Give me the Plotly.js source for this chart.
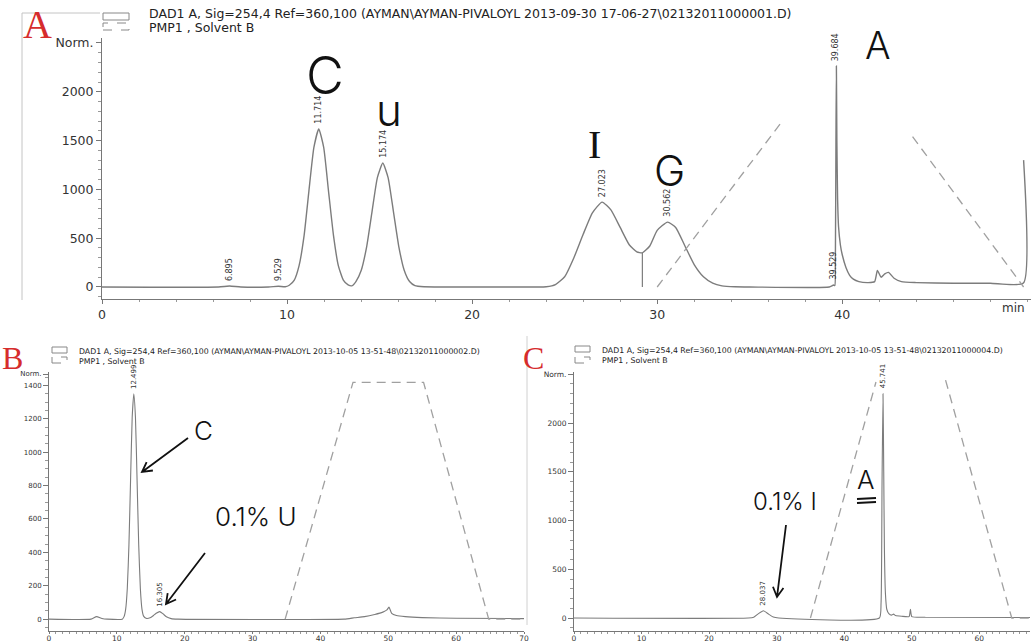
<!DOCTYPE html>
<html>
<head>
<meta charset="utf-8">
<script src="https://cdn.plot.ly/plotly-3.0.1.min.js"></script>
<style>
  html, body { margin: 0; padding: 0; background: #fff; }
  #chart { width: 1034px; height: 643px; }
</style>
</head>
<body>
<div id="chart"></div>
<script>
// ---------- Run A: mixed standard (C, U, I, G, A) ----------
const runA_time = [0, 6.3, 6.895, 7.5, 9.0, 9.529, 9.9,
  10.12, 10.39, 10.65, 10.92, 11.18, 11.45, 11.714, 11.98, 12.24, 12.51, 12.77, 13.04, 13.30, 13.50,
  13.72, 14.01, 14.30, 14.59, 14.88, 15.174, 15.46, 15.75, 16.04, 16.33, 16.62, 16.91, 17.4, 18.5,
  23.5, 24.0, 24.5, 25.0, 25.5, 26.0, 26.5, 27.023, 27.5, 28.0, 28.5, 28.9, 29.2, 29.6, 30.0,
  30.562, 31.0, 31.5, 32.0, 32.5, 33.0, 33.5, 34.2, 35.0,
  39.3, 39.529, 39.6, 39.63, 39.66, 39.684, 39.71, 39.75, 39.8, 39.9, 40.0, 40.2, 40.4, 40.6, 40.9,
  41.4, 41.75, 41.9, 42.1, 42.3, 42.5, 42.8, 43.2, 44.0, 46.0, 48.0, 49.79, 49.8];
const runA_signal = [0, 0, 10, 0, 0, 8, 2,
  18, 71, 219, 526, 983, 1430, 1620, 1430, 983, 526, 219, 71, 22, 12,
  56, 172, 412, 770, 1121, 1270, 1121, 770, 412, 172, 56, 14, 2, 0,
  0, 3, 25, 105, 300, 540, 760, 870, 790, 610, 430, 360, 350, 420, 580,
  665, 610, 420, 230, 105, 40, 12, 2, 0,
  0, 20, 15, 300, 1500, 2265, 1500, 900, 620, 430, 330, 200, 120, 80, 55,
  45, 55, 170, 100, 135, 150, 90, 55, 45, 38, 38, 40, 1300];
const runA_peaks = [6.895, 9.529, 11.714, 15.174, 27.023, 30.562, 39.529, 39.684];
const runA_dropTime = [29.2, 29.2];
const runA_dropSignal = [0, 350];
const runA_gradTime = [30.0, 36.8, null, 43.8, 49.8];
const runA_gradLevel = [0, 1710, null, 1540, 0];
const runA_header = ['DAD1 A, Sig=254,4 Ref=360,100 (AYMAN\\AYMAN-PIVALOYL 2013-09-30 17-06-27\\02132011000001.D)',
  'PMP1 , Solvent B'];
const runA_xticks = [0, 10, 20, 30, 40];
const runA_yticks = [0, 500, 1000, 1500, 2000, 2500];
const runA_ylabels = ['0', '500', '1000', '1500', '2000', 'Norm.'];

// ---------- Run B: C with 0.1% U ----------
const runB_time = [0, 6.2, 7.0, 7.8, 8.6, 10.8, 11.06, 11.30, 11.54, 11.78, 12.02, 12.26, 12.499,
  12.74, 12.98, 13.22, 13.46, 13.70, 13.94, 14.3, 14.9, 15.4, 15.8, 16.305, 16.8, 17.3, 18.0, 19.0,
  43.5, 45.0, 46.5, 48.0, 49.2, 49.8, 50.1, 50.5, 51.2, 52.5, 55.0, 60.0, 70.0];
const runB_signal = [0, 0, 15, 4, 0, 0, 15, 60, 185, 445, 831, 1209, 1350,
  1209, 831, 445, 185, 60, 18, 5, 8, 22, 35, 45, 32, 14, 3, 0,
  0, 8, 15, 28, 42, 55, 72, 35, 22, 15, 9, 5, 3];
const runB_peaks = [12.499, 16.305];
const runB_gradTime = [34.8, 44.8, 55.2, 64.8, 70.0];
const runB_gradLevel = [0, 1418, 1418, 0, 0];
const runB_header = ['DAD1 A, Sig=254,4 Ref=360,100 (AYMAN\\AYMAN-PIVALOYL 2013-10-05 13-51-48\\02132011000002.D)',
  'PMP1 , Solvent B'];
const runB_xticks = [0, 10, 20, 30, 40, 50, 60, 70];
const runB_yticks = [0, 200, 400, 600, 800, 1000, 1200, 1400, 1468];
const runB_ylabels = ['0', '200', '400', '600', '800', '1000', '1200', '1400', 'Norm.'];

// ---------- Run C: A with 0.1% I ----------
const runC_time = [0, 25.8, 26.6, 27.3, 28.037, 28.8, 29.5, 30.3, 45.2, 45.45, 45.6, 45.741, 45.85,
  45.95, 46.1, 46.3, 46.6, 47.0, 47.3, 47.6, 48.5, 49.6, 49.8, 50.0, 52.0, 67.5];
const runC_signal = [0, 0, 8, 45, 75, 40, 10, 0, 0, 150, 1400, 2300, 1500,
  700, 250, 90, 45, 30, 40, 25, 18, 15, 90, 15, 8, 5];
const runC_peaks = [28.037, 45.741];
const runC_gradTime = [35.0, 44.7, null, 55.0, 64.8, 67.5];
const runC_gradLevel = [0, 2420, null, 2440, 0, 0];
const runC_header = ['DAD1 A, Sig=254,4 Ref=360,100 (AYMAN\\AYMAN-PIVALOYL 2013-10-05 13-51-48\\02132011000004.D)',
  'PMP1 , Solvent B'];
const runC_xticks = [0, 10, 20, 30, 40, 50, 60];
const runC_yticks = [0, 500, 1000, 1500, 2000, 2500];
const runC_ylabels = ['0', '500', '1000', '1500', '2000', 'Norm.'];

// ---------- page geometry helpers (pixels -> paper) ----------
const W = 1034, H = 643;
const px = x => x / W;
const py = y => 1 - y / H;

const SANS = 'DejaVu Sans, Liberation Sans, Arial, sans-serif';
const HAND = 'Inter, Noto Sans, Liberation Sans, sans-serif';
const SERIF = 'Liberation Serif, Times New Roman, serif';
const TRACE = '#7c7c7c';
const GRAD = '#a0a0a0';

function signalTrace(t, s, xa, ya, w) {
  return { x: t, y: s, xaxis: xa, yaxis: ya, type: 'scatter', mode: 'lines',
    line: { color: TRACE, width: w, shape: 'spline', smoothing: 0.5 }, hoverinfo: 'skip' };
}
function gradientTrace(t, g, xa, ya) {
  return { x: t, y: g, xaxis: xa, yaxis: ya, type: 'scatter', mode: 'lines', connectgaps: false,
    line: { color: GRAD, width: 1.3, dash: '9px,6px' }, hoverinfo: 'skip' };
}

const data = [
  signalTrace(runA_time, runA_signal, 'x', 'y', 1.4),
  { x: runA_dropTime, y: runA_dropSignal, xaxis: 'x', yaxis: 'y', type: 'scatter', mode: 'lines',
    line: { color: TRACE, width: 1.2 }, hoverinfo: 'skip' },
  gradientTrace(runA_gradTime, runA_gradLevel, 'x', 'y'),
  signalTrace(runB_time, runB_signal, 'x2', 'y2', 1.1),
  gradientTrace(runB_gradTime, runB_gradLevel, 'x2', 'y2'),
  signalTrace(runC_time, runC_signal, 'x3', 'y3', 1.1),
  gradientTrace(runC_gradTime, runC_gradLevel, 'x3', 'y3')
];

function xAxis(dom, range, ticks, size, minorStep, anchor, tlen, standoff) {
  return { domain: dom, range: range, tickvals: ticks, ticktext: ticks.map(String), anchor: anchor,
    showline: true, linecolor: '#777', linewidth: 1, ticks: 'outside', ticklen: tlen, tickcolor: '#777',
    ticklabelstandoff: standoff,
    showgrid: false, zeroline: false, fixedrange: true,
    tickfont: { family: SANS, size: size, color: '#333' },
    minor: { tickmode: 'linear', tick0: 0, dtick: minorStep, ticks: 'outside', ticklen: 2, tickcolor: '#999' } };
}
function yAxis(dom, range, ticks, labels, size, minorStep, anchor) {
  return { domain: dom, range: range, tickvals: ticks, ticktext: labels, anchor: anchor,
    showline: true, linecolor: '#777', linewidth: 1, ticks: 'outside', ticklen: 5, tickcolor: '#777',
    showgrid: false, zeroline: false, fixedrange: true,
    tickfont: { family: SANS, size: size, color: '#333' },
    minor: { tickmode: 'linear', tick0: 0, dtick: minorStep, ticks: 'outside', ticklen: 3, tickcolor: '#999' } };
}

function peakLabels(times, signals, peaks, xr, yr, size) {
  return peaks.map(t => ({
    x: t, y: signals[times.indexOf(t)], xref: xr, yref: yr, text: t.toFixed(3),
    textangle: -90, showarrow: false, xanchor: 'center', yanchor: 'bottom', yshift: 3,
    font: { family: SANS, size: size, color: '#333' }
  }));
}
function headerLines(lines, x, y1, y2, size) {
  return [
    { x: px(x), y: py(y1), xref: 'paper', yref: 'paper', text: lines[0], showarrow: false,
      xanchor: 'left', yanchor: 'middle', font: { family: SANS, size: size, color: '#222' } },
    { x: px(x), y: py(y2), xref: 'paper', yref: 'paper', text: lines[1], showarrow: false,
      xanchor: 'left', yanchor: 'middle', font: { family: SANS, size: size, color: '#222' } }
  ];
}
function note(text, x, y, size, family, color) {
  return { x: px(x), y: py(y), xref: 'paper', yref: 'paper', text: text, showarrow: false,
    xanchor: 'center', yanchor: 'middle',
    font: { family: family || HAND, size: size, color: color || '#111', weight: family ? 400 : 300 } };
}
function legendBoxes(x0, x1, yTop, h, gap) {
  return [
    { type: 'rect', xref: 'paper', yref: 'paper', x0: px(x0), x1: px(x1), y0: py(yTop + h), y1: py(yTop),
      line: { color: '#888', width: 1 } },
    { type: 'rect', xref: 'paper', yref: 'paper', x0: px(x0), x1: px(x1), y0: py(yTop + gap + h), y1: py(yTop + gap),
      line: { color: '#888', width: 1, dash: 'dash' } }
  ];
}
function pline(x0, y0, x1, y1, color, width) {
  return { type: 'line', xref: 'paper', yref: 'paper', x0: px(x0), y0: py(y0), x1: px(x1), y1: py(y1),
    line: { color: color, width: width } };
}
function handArrow(tx, ty, hx, hy) {
  const ang = Math.atan2(ty - hy, tx - hx), L = 11, sp = 0.5;
  const a1x = hx + L * Math.cos(ang + sp), a1y = hy + L * Math.sin(ang + sp);
  const a2x = hx + L * Math.cos(ang - sp), a2y = hy + L * Math.sin(ang - sp);
  const P = (x, y) => px(x) + ',' + py(y);
  return { type: 'path', xref: 'paper', yref: 'paper',
    path: 'M' + P(tx, ty) + ' L' + P(hx, hy) + ' M' + P(a1x, a1y) + ' L' + P(hx, hy) + ' L' + P(a2x, a2y),
    line: { color: '#111', width: 1.8 } };
}

const annotations = [
  ...peakLabels(runA_time, runA_signal, runA_peaks, 'x', 'y', 8),
  ...peakLabels(runB_time, runB_signal, runB_peaks, 'x2', 'y2', 7),
  ...peakLabels(runC_time, runC_signal, runC_peaks, 'x3', 'y3', 7),
  ...headerLines(runA_header, 147, 14, 28, 12.5),
  ...headerLines(runB_header, 77, 351, 361, 7.8),
  ...headerLines(runC_header, 600, 350, 360, 7.8),
  { x: px(1013), y: py(308), xref: 'paper', yref: 'paper', text: 'min', showarrow: false,
    xanchor: 'center', yanchor: 'middle', font: { family: SANS, size: 12, color: '#333' } },
  // panel letters
  note('A', 37, 24, 40, SERIF, '#d62c2c'),
  note('B', 12, 358, 32, SERIF, '#d62c2c'),
  note('C', 533, 358, 32, SERIF, '#d62c2c'),
  // handwritten compound names, run A
  note('C', 325, 76, 52),
  note('u', 389, 110, 44),
  note('I', 594, 145, 40, SERIF),
  note('G', 669, 171, 42),
  note('A', 878, 45, 38),
  // run B notes
  note('C', 203, 430, 26),
  note('0.1% U', 256, 516, 26),
  // run C notes
  note('0.1% I', 785, 502, 24),
  note('A', 866, 479, 26)
];

const shapes = [
  ...legendBoxes(103, 129, 13, 7, 10),
  ...legendBoxes(52, 67, 347, 6, 10),
  ...legendBoxes(575, 590, 346, 6, 11),
  pline(22, 13, 22, 300, '#c4c4c4', 1),
  pline(22, 13, 100, 13, '#c4c4c4', 1),
  pline(527, 336, 527, 625, '#d0d0d0', 1),
  handArrow(188, 438, 142, 472),
  handArrow(205, 553, 166, 604),
  handArrow(786, 525, 777, 597),
  pline(857, 499, 876, 498, '#111', 2),
  pline(857, 503, 876, 502, '#111', 2)
];

const layout = {
  width: W, height: H,
  margin: { l: 0, r: 0, t: 0, b: 0 },
  paper_bgcolor: '#fff', plot_bgcolor: 'rgba(0,0,0,0)',
  showlegend: false,
  xaxis: xAxis([px(102), px(1031)], [0, 50.2], runA_xticks, 12.5, 2, 'y', 4, 0),
  yaxis: yAxis([py(299), py(38)], [-123, 2551], runA_yticks, runA_ylabels, 12.5, 100, 'x'),
  xaxis2: xAxis([px(49), px(524)], [0, 70], runB_xticks, 7.5, 1, 'y2', 2, -2),
  yaxis2: yAxis([py(631), py(372)], [-71, 1480], runB_yticks, runB_ylabels, 7, 50, 'x2'),
  xaxis3: xAxis([px(574), px(1030)], [0, 67.5], runC_xticks, 7.5, 1, 'y3', 2, -2),
  yaxis3: yAxis([py(631), py(372)], [-133, 2523], runC_yticks, runC_ylabels, 7.5, 100, 'x3'),
  annotations: annotations,
  shapes: shapes
};

Plotly.newPlot('chart', data, layout, { staticPlot: true, displayModeBar: false });
</script>
</body>
</html>
